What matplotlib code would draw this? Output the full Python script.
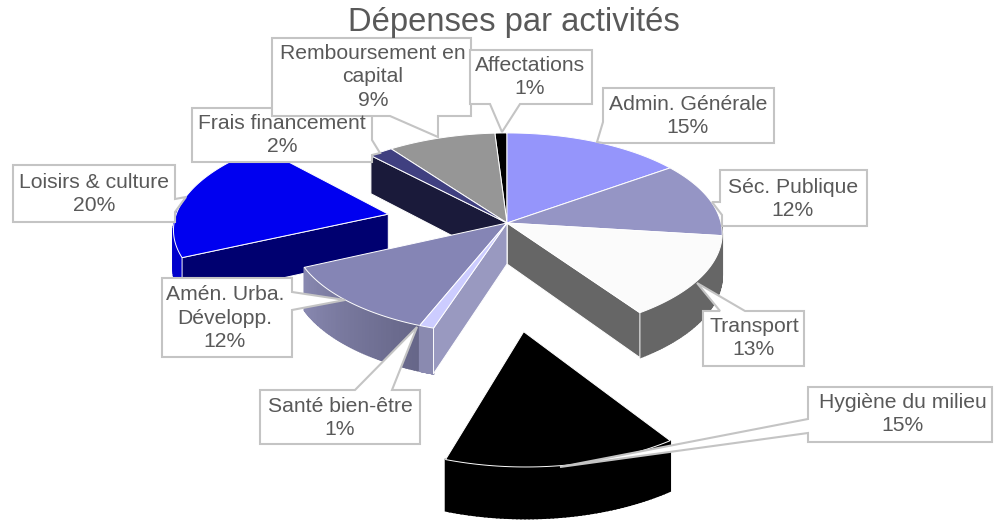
import numpy as np
import matplotlib
matplotlib.use("Agg")
import matplotlib.pyplot as plt
from matplotlib.patches import Polygon
from matplotlib.colors import to_rgb

plt.rcParams['font.family'] = ['Liberation Sans', 'DejaVu Sans']

# Data (clockwise from 12 o'clock)
categories = ["Admin. Générale", "Séc. Publique", "Transport", "Hygiène du milieu",
              "Santé bien-être", "Amén. Urba.\nDévelopp.", "Loisirs & culture",
              "Frais financement", "Remboursement en\ncapital", "Affectations"]
values = [15, 12, 13.4, 14.6, 1, 12, 20, 2, 9, 1]
percent_labels = ["15%", "12%", "13%", "15%", "1%", "12%", "20%", "2%", "9%", "1%"]

# Style per slice
top_colors = ["#9595fb", "#9595c5", "#fbfbfb", "#000000", "#ccccff",
              "#8585b5", "#0000f0", "#404080", "#969696", "#000000"]
face_colors = ["#7a7acc", "#77779e", "#666666", "#000000", "#9999c0",
               "#8585b0", "#000070", "#1a1a3a", "#787878", "#000000"]
wall_colors = [("#7a7acc", "#7a7acc"), ("#666666", "#666666"), ("#666666", "#666666"),
               ("#000000", "#000000"), ("#8a8ab0", "#8a8ab0"), ("#666688", "#8888b0"),
               ("#0000cc", "#0000cc"), ("#1a1a3a", "#1a1a3a"), ("#787878", "#787878"),
               ("#000000", "#000000")]
# Explosion offset in pie-plane units and radius factor
offsets = [(0, 0)] * 10
offsets[3] = (0.07, -0.98)
offsets[6] = (-0.56, 0.09)
radii = [1, 1, 1, .97, 1, 1, 1, 1, 1, 1]
draw_order = [9, 8, 7, 0, 1, 6, 2, 5, 4, 3]

# Callouts: outline with pointer, text centre
callouts = {
    0: ([(603, 88), (774, 88), (774, 143), (603, 143), (597, 142), (603, 122)], (688, 116)),
    1: ([(720, 170), (867, 170), (867, 226), (722, 226), (722, 215), (712, 202), (720, 202)], (793, 199)),
    2: ([(703, 311), (720, 311), (697, 283), (745, 311), (804, 311), (804, 366), (703, 366)], (754, 338)),
    3: ([(808, 387), (992, 387), (992, 442), (808, 442), (808, 433), (560, 467), (808, 419)], (903, 414)),
    4: ([(260, 390), (355, 390), (417, 327), (392, 390), (420, 390), (420, 444), (260, 444)], (340, 418)),
    5: ([(162, 278), (292, 278), (292, 292), (345, 300), (292, 310), (292, 357), (162, 357)], (225, 318)),
    6: ([(13, 165), (175, 165), (175, 199), (186, 197), (175, 212), (175, 222), (13, 222)], (94, 194)),
    7: ([(192, 108), (372, 108), (372, 140), (380, 153), (372, 155), (372, 162), (192, 162)], (282, 135)),
    8: ([(272, 38), (471, 38), (471, 116), (438, 116), (438, 137), (390, 116), (272, 116)], (373, 77)),
    9: ([(470, 50), (592, 50), (592, 104), (520, 104), (502, 132), (490, 104), (470, 104)], (530, 77)),
}

CX, CY, A, B, K, DEPTH = 507, 223, 214, 99.5, 0.105, 41


def project(X, Y):
    s = 1 / (1 + K * Y)
    return CX + A * X * s, CY - B * Y * s, s


def rim(i, t):
    ox, oy = offsets[i]
    return project(ox + radii[i] * np.sin(t), oy + radii[i] * np.cos(t))


fig = plt.figure(figsize=(10.04, 5.22), dpi=100)
ax = fig.add_axes([0, 0, 1, 1])
ax.set_xlim(0, 1004)
ax.set_ylim(522, 0)
ax.axis("off")

bounds = np.concatenate([[0], np.cumsum(values)]) / np.sum(values) * 2 * np.pi
EDGE = dict(edgecolor="white", linewidth=0.7, joinstyle="round")
z = 2

for i in draw_order:
    t0, t1 = bounds[i], bounds[i + 1]
    ts = np.linspace(t0, t1, 60)
    ax_, ay_, as_ = project(*offsets[i])
    # outer wall, shaded piece by piece
    c0, c1 = (np.array(to_rgb(c)) for c in wall_colors[i])
    for a, b in zip(ts[:-1], ts[1:]):
        if np.cos(0.5 * (a + b)) < 0.02:
            xa, ya, sa = rim(i, a)
            xb, yb, sb = rim(i, b)
            f = (0.5 * (a + b) - t0) / (t1 - t0)
            col = c0 + (c1 - c0) * f
            ax.add_patch(Polygon([(xa, ya), (xb, yb), (xb, yb + DEPTH * sb), (xa, ya + DEPTH * sa)],
                                 closed=True, facecolor=col, edgecolor=col, linewidth=1.2, zorder=z))
    z += 1
    # cut faces
    for t, vis in ((t0, np.sin(t0) < 0), (t1, np.sin(t1) > 0)):
        if vis:
            rx, ry, rs = rim(i, t)
            ax.add_patch(Polygon([(ax_, ay_), (rx, ry), (rx, ry + DEPTH * rs), (ax_, ay_ + DEPTH * as_)],
                                 closed=True, facecolor=face_colors[i], zorder=z, **EDGE))
            z += 1
    # top
    pts = [(ax_, ay_)] + [rim(i, t)[:2] for t in ts]
    ax.add_patch(Polygon(pts, closed=True, facecolor=top_colors[i], zorder=z, **EDGE))
    z += 1

for i, (outline, (tx, ty)) in callouts.items():
    ax.add_patch(Polygon(outline, closed=True, facecolor="white", edgecolor="#c4c4c4",
                         linewidth=1.5, zorder=50 + i))
    ax.text(tx, ty, categories[i] + "\n" + percent_labels[i], ha="center", va="center",
            fontsize=15.2, color="#595959", linespacing=1.33, zorder=70 + i)

ax.text(514, 22, "Dépenses par activités", ha="center", va="center",
        fontsize=23.6, color="#595959", zorder=90)

fig.savefig("out.png", dpi=100, facecolor="white")
